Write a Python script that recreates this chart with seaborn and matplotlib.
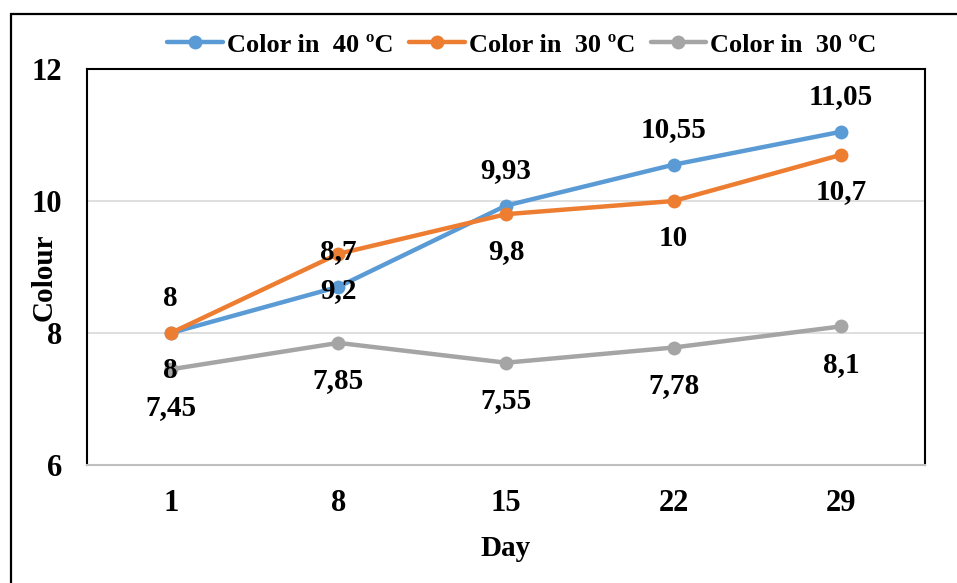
import pandas as pd
import numpy as np
import matplotlib.pyplot as plt
import seaborn as sns
from matplotlib.patches import Rectangle

# === Data === #
days = ["1", "8", "15", "22", "29"]
color_40 = [8, 8.7, 9.93, 10.55, 11.05]
color_30a = [8, 9.2, 9.8, 10, 10.7]
color_30b = [7.45, 7.85, 7.55, 7.78, 8.1]
series_labels = ["Color in  40 \u00baC", "Color in  30 \u00baC", "Color in  30 \u00baC"]
series_colors = ["#5B9BD5", "#ED7D31", "#A5A5A5"]
# label offset in pixels (above / below the point)
label_offsets = [35, -37, -38]

sns.set_theme(style="white")
plt.rcParams['font.family'] = ['Liberation Serif', 'DejaVu Serif']
plt.rcParams['font.weight'] = 'bold'
plt.rcParams['text.color'] = 'black'
plt.rcParams['axes.labelcolor'] = 'black'
plt.rcParams['xtick.color'] = 'black'
plt.rcParams['ytick.color'] = 'black'

fig = plt.figure(figsize=(9.57, 5.83), dpi=100)
ax = fig.add_axes([87 / 957, 1 - 465 / 583, (925 - 87) / 957, (465 - 69) / 583])

all_series = [color_40, color_30a, color_30b]
for vals, lab, col in zip(all_series, series_labels, series_colors):
    df = pd.DataFrame({"Day": days, "Colour": vals})
    sns.lineplot(data=df, x="Day", y="Colour", ax=ax, color=col, linewidth=3.2,
                 marker="o", markersize=10, markeredgewidth=0, label=lab,
                 sort=False, zorder=3)

for vals, off in zip(all_series, label_offsets):
    for i, v in enumerate(vals):
        ax.annotate(f"{v:g}".replace(".", ","), xy=(i, v), xytext=(0, off),
                    textcoords="offset pixels", ha="center", va="center",
                    fontsize=21, fontweight="bold", color="black", zorder=5)

# === Axes styling === #
ax.set_xlim(-0.5, 4.5)
ax.set_ylim(6, 12)
ax.set_yticks([6, 8, 10, 12])
ax.grid(axis="y", color="#D9D9D9", linewidth=1.2)
ax.grid(axis="x", visible=False)
for s in ["left", "top", "right"]:
    ax.spines[s].set_color("black")
    ax.spines[s].set_linewidth(1.5)
ax.spines["bottom"].set_color("#BFBFBF")
ax.spines["bottom"].set_linewidth(1.5)
ax.tick_params(axis="both", length=0, labelsize=22)
ax.tick_params(axis="y", pad=18)
ax.tick_params(axis="x", pad=17)

ax.set_xlabel("Day", fontsize=21, fontweight="bold")
ax.set_ylabel("Colour", fontsize=21, fontweight="bold")
ax.xaxis.set_label_coords(0.499, -0.177)
ax.yaxis.set_label_coords(-0.035, 0.475)

# legend on top
handles, labels = ax.get_legend_handles_labels()
ax.get_legend().remove()
fig.legend(handles, labels, loc="center", bbox_to_anchor=(522 / 957, 1 - 45 / 583),
           ncol=3, frameon=False, fontsize=19, handlelength=2.1,
           handletextpad=0.15, columnspacing=0.6, borderaxespad=0)

# outer frame (runs off the right and bottom edge)
fig.patches.append(Rectangle((11 / 957, -0.2), 1.2, 1.2 - 14 / 583,
                             transform=fig.transFigure, fill=False,
                             edgecolor="black", linewidth=1.6))

fig.savefig("out.png", dpi=100)
